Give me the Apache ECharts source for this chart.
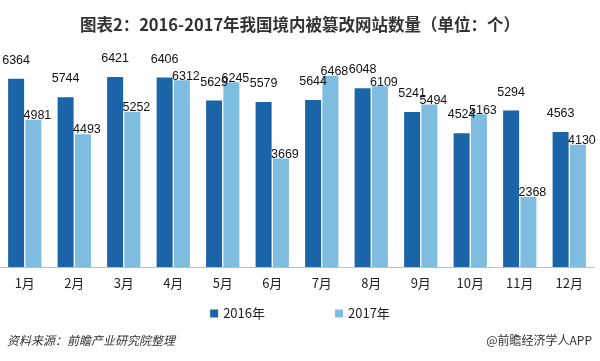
<!DOCTYPE html>
<html><head><meta charset="utf-8">
<script src="https://cdn.jsdelivr.net/npm/echarts@6/dist/echarts.min.js"></script>
<style>html,body{margin:0;padding:0;background:#fff}#c{width:600px;height:361px}</style>
</head><body><div id="c"></div>
<script>
const months = ['1月','2月','3月','4月','5月','6月','7月','8月','9月','10月','11月','12月'];
const s2016 = [6364,5744,6421,6406,5629,5579,5644,6048,5241,4524,5294,4563];
const s2017 = [4981,4493,5252,6312,6245,3669,6468,6109,5494,5163,2368,4130];
const seriesNames = ['2016年','2017年'];
const titleText = '图表2：2016-2017年我国境内被篡改网站数量（单位：个）';
const sourceText = '资料来源：前瞻产业研究院整理';
const brandText = '@前瞻经济学人APP';

const chart = echarts.init(document.getElementById('c'), null, {renderer:'canvas'});
const font = 'Arial, "Liberation Sans", "Noto Sans CJK SC", sans-serif';
const cjk = '"Noto Sans CJK SC", sans-serif';
chart.setOption({
  animation:false,
  title:{text:titleText, left:'center', top:11,
    textStyle:{fontSize:16.5, fontWeight:'bold', color:'#333', fontFamily:cjk}},
  legend:{data:seriesNames, top:302, left:'center', itemWidth:8, itemHeight:8, itemGap:70, icon:'rect',
    textStyle:{fontSize:13, color:'#222', fontFamily:cjk}},
  grid:{left:0, right:6, top:60, bottom:94, containLabel:false},
  xAxis:{type:'category', data:months,
    axisLine:{lineStyle:{color:'#bfbfbf'}}, axisTick:{show:false},
    axisLabel:{fontSize:13, color:'#222', margin:10, fontFamily:cjk}},
  yAxis:{type:'value', min:0, max:7000, show:false, splitLine:{show:false}},
  graphic:[
    {type:'text', left:7, top:334, style:{text:sourceText, fill:'#333', font:'italic 12px "Noto Sans CJK SC", sans-serif'}},
    {type:'text', right:8, top:334, style:{text:brandText, fill:'#333', font:'12px "Noto Sans CJK SC", sans-serif'}}
  ],
  series:[
    {name:seriesNames[0], type:'bar', data:s2016, barWidth:16, barGap:'8%', itemStyle:{color:'#1b64a8'},
      label:{show:true, position:'top', distance:12, color:'#111', fontSize:12.5, fontFamily:font}},
    {name:seriesNames[1], type:'bar', data:s2017, barWidth:16, itemStyle:{color:'#7fbde0'},
      label:{show:true, position:'top', distance:0, offset:[4,2], color:'#111', fontSize:12.5, fontFamily:font}}
  ]
});
</script></body></html>
